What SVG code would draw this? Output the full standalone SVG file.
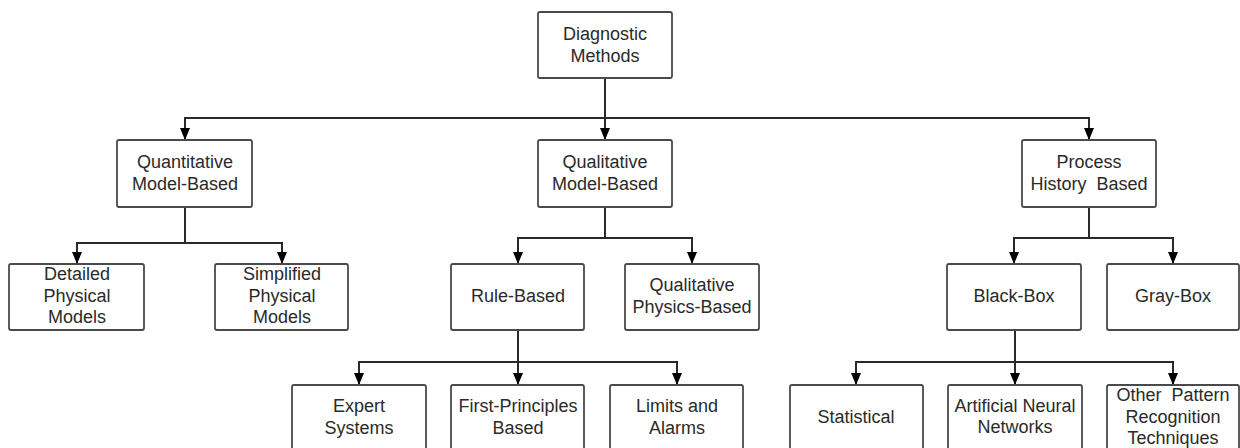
<svg xmlns="http://www.w3.org/2000/svg" width="1240" height="448" viewBox="0 0 1240 448">
<style>
.box{fill:#fff;stroke:#4a4a4a;stroke-width:1.8}
.lbl{font-family:"Liberation Sans",Arial,sans-serif;font-size:18px;fill:#2a2a2a;text-anchor:middle}
.con{fill:none;stroke:#2a2a2a;stroke-width:2;marker-end:url(#arr)}
</style>
<defs>
<marker id="arr" markerUnits="userSpaceOnUse" markerWidth="12" markerHeight="10" refX="12" refY="5" orient="auto" viewBox="0 0 12 10">
<path d="M0 0 L12 5 L0 10 Z" fill="#000"/>
</marker>
</defs>
<g id="connectors">
<path class="con" d="M605 78 V140"/>
<path class="con" d="M605 118 H185 V140"/>
<path class="con" d="M605 118 H1089 V140"/>
<path class="con" d="M185 207 V243 H77 V264"/>
<path class="con" d="M185 243 H282 V264"/>
<path class="con" d="M605 207 V238 H518 V264"/>
<path class="con" d="M605 238 H692 V264"/>
<path class="con" d="M1089 207 V238 H1014 V264"/>
<path class="con" d="M1089 238 H1173 V264"/>
<path class="con" d="M518 330 V385"/>
<path class="con" d="M518 362 H359 V385"/>
<path class="con" d="M518 362 H677 V385"/>
<path class="con" d="M1015 330 V385"/>
<path class="con" d="M1015 362 H856 V385"/>
<path class="con" d="M1015 362 H1173 V385"/>
</g>
<g id="diagnostic-methods"><rect class="box" x="538" y="12" width="134" height="66" rx="2"/><text class="lbl" x="605" y="40">Diagnostic</text><text class="lbl" x="605" y="62">Methods</text></g>
<g id="quantitative"><rect class="box" x="117" y="140" width="135" height="67" rx="2"/><text class="lbl" x="185" y="168">Quantitative</text><text class="lbl" x="185" y="190">Model-Based</text></g>
<g id="qualitative"><rect class="box" x="538" y="140" width="134" height="67" rx="2"/><text class="lbl" x="605" y="168">Qualitative</text><text class="lbl" x="605" y="190">Model-Based</text></g>
<g id="process-history"><rect class="box" x="1022" y="140" width="134" height="67" rx="2"/><text class="lbl" x="1089" y="168">Process</text><text class="lbl" x="1089" y="190" xml:space="preserve">History  Based</text></g>
<g id="detailed"><rect class="box" x="9" y="264" width="135" height="66" rx="2"/><text class="lbl" x="77" y="280">Detailed</text><text class="lbl" x="77" y="301.5">Physical</text><text class="lbl" x="77" y="323">Models</text></g>
<g id="simplified"><rect class="box" x="215" y="264" width="133" height="66" rx="2"/><text class="lbl" x="282" y="280">Simplified</text><text class="lbl" x="282" y="301.5">Physical</text><text class="lbl" x="282" y="323">Models</text></g>
<g id="rule-based"><rect class="box" x="451" y="264" width="133" height="66" rx="2"/><text class="lbl" x="518" y="302">Rule-Based</text></g>
<g id="qualitative-physics"><rect class="box" x="625" y="264" width="134" height="66" rx="2"/><text class="lbl" x="692" y="291">Qualitative</text><text class="lbl" x="692" y="313">Physics-Based</text></g>
<g id="black-box"><rect class="box" x="947" y="264" width="134" height="66" rx="2"/><text class="lbl" x="1014" y="302">Black-Box</text></g>
<g id="gray-box"><rect class="box" x="1107" y="264" width="132" height="66" rx="2"/><text class="lbl" x="1173" y="302">Gray-Box</text></g>
<g id="expert"><rect class="box" x="292" y="385" width="134" height="66" rx="2"/><text class="lbl" x="359" y="412">Expert</text><text class="lbl" x="359" y="434">Systems</text></g>
<g id="first-principles"><rect class="box" x="451" y="385" width="133" height="66" rx="2"/><text class="lbl" x="518" y="412">First-Principles</text><text class="lbl" x="518" y="434">Based</text></g>
<g id="limits"><rect class="box" x="610" y="385" width="133" height="66" rx="2"/><text class="lbl" x="677" y="412">Limits and</text><text class="lbl" x="677" y="434">Alarms</text></g>
<g id="statistical"><rect class="box" x="790" y="385" width="133" height="66" rx="2"/><text class="lbl" x="856" y="423">Statistical</text></g>
<g id="ann"><rect class="box" x="948" y="385" width="134" height="66" rx="2"/><text class="lbl" x="1015" y="412">Artificial Neural</text><text class="lbl" x="1015" y="433">Networks</text></g>
<g id="other-pattern"><rect class="box" x="1107" y="385" width="132" height="66" rx="2"/><text class="lbl" x="1173" y="401" xml:space="preserve">Other  Pattern</text><text class="lbl" x="1173" y="423">Recognition</text><text class="lbl" x="1173" y="444">Techniques</text></g>
</svg>
